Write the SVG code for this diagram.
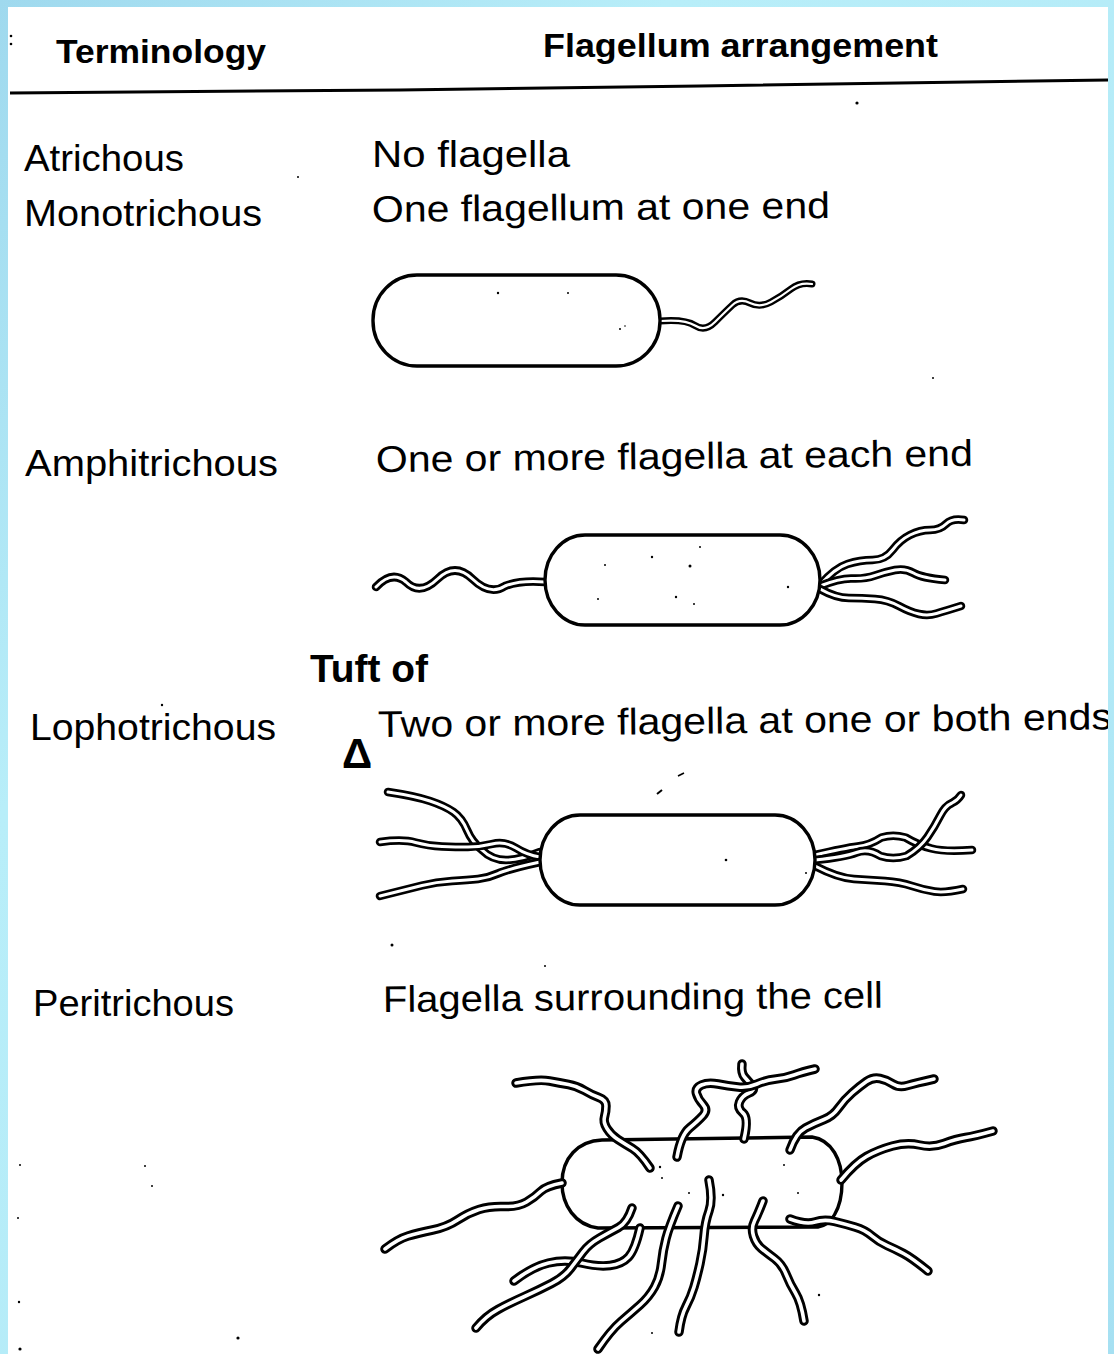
<svg xmlns="http://www.w3.org/2000/svg" xmlns:xlink="http://www.w3.org/1999/xlink" width="1114" height="1354" viewBox="0 0 1114 1354">
  <style>
    .lbl { font-family: "Liberation Sans", Arial, sans-serif; font-size: 37px; fill: #000; }
    .hdr { font-family: "Liberation Sans", Arial, sans-serif; font-size: 33px; font-weight: bold; fill: #000; }
    .note { font-family: "Liberation Sans", Arial, sans-serif; font-weight: bold; fill: #000; }
    .body { fill: #fff; stroke: #000; stroke-width: 3.4; }
    .fo { fill: none; stroke: #000; stroke-width: 8.5; stroke-linecap: round; stroke-linejoin: round; }
    .fi { fill: none; stroke: #fff; stroke-width: 3; stroke-linecap: round; stroke-linejoin: round; }
    .thin .fo { stroke-width: 7; }
    .thin .fi { stroke-width: 2.2; }
    .wide .fo { stroke-width: 9.5; }
    .wide .fi { stroke-width: 3.6; }
    .speck { fill: #000; }
  </style>
  <defs>
    <linearGradient id="frame" x1="0" y1="0" x2="1" y2="1">
      <stop offset="0" stop-color="#9fd9ee"/>
      <stop offset="0.3" stop-color="#b8eef9"/>
      <stop offset="0.7" stop-color="#b3eaf7"/>
      <stop offset="1" stop-color="#a6e0f2"/>
    </linearGradient>
    <clipPath id="panelClip"><rect x="8" y="7" width="1100" height="1347"/></clipPath>

    <!-- monotrichous flagellum -->
    <path id="m1" d="M660,321 Q685,319 695,325.5 Q705,332 715,322 Q725,312 732.5,305 Q740,298 750,303 Q760,308 771,302 Q782,296 791,289 Q800,282 812,284"/>

    <!-- amphitrichous flagella -->
    <path id="a1" d="M376,587 Q392,570 406,582 Q420,596 437.5,579 Q455,562 472.5,579 Q490,596 505,586 Q520,580 545,582"/>
    <path id="a2" d="M820,585 Q835,568 847.5,564 Q860,560 872.5,560 Q885,560 892.5,550 Q900,540 910,535 Q920,530 930,530 Q940,530 946,524 Q952,518 964,520"/>
    <path id="a3" d="M820,586 Q840,578 852.5,578.5 Q865,579 875,575.5 Q885,572 895,570 Q905,568 913.5,573 Q922,578 945,580"/>
    <path id="a4" d="M820,589 Q836,598 849,598 Q862,598 875,599 Q888,600 899,606 Q910,612 919,614 Q928,616 936.5,613.5 Q945,611 961,606"/>

    <!-- lophotrichous tufts -->
    <path id="l1" d="M388,792 Q415,796 430,801 Q445,806 453.5,812 Q462,818 467,830 Q472,842 482,850 Q492,860 506,860 Q520,860 540,852"/>
    <path id="l2" d="M380,842 Q403,839 415.5,842.5 Q428,846 442,846.5 Q456,847 468,847 Q480,847 492,844 Q505,841 516,848 Q527,855 540,857"/>
    <path id="l3" d="M380,896 Q408,889 422,885.5 Q436,882 452,881 Q468,880 478,879 Q488,878 498,873.5 Q508,869 540,862"/>
    <path id="l4" d="M815,855 Q845,848 857.5,846.5 Q870,845 881.5,837.5 Q893,834 905.5,837.5 Q918,845 931.5,848.5 Q945,852 972,850"/>
    <path id="l5" d="M815,860 Q845,857 856.5,852.5 Q868,848 880.5,856 Q893,860 906.5,856 Q920,848 927.5,837 Q935,826 940,816 Q945,806 952,803 Q958,800 961,795"/>
    <path id="l6" d="M815,866 Q838,878 854,879 Q870,880 885,881 Q900,882 912,886 Q924,890 934.5,891.5 Q945,893 963,889"/>

    <!-- peritrichous flagella -->
    <path id="p1" d="M516,1083 Q539,1079 549.5,1081 Q560,1083 568.5,1084.5 Q577,1086 584.5,1090.5 Q592,1095 599,1097.5 Q606,1100 606,1106 Q606,1112 604.5,1117 Q603,1122 607,1128.5 Q611,1135 618,1139.5 Q625,1144 632.5,1148.5 Q640,1153 650,1168"/>
    <path id="p2" d="M677,1157 Q681,1135 689.5,1128 Q698,1121 703,1115.5 Q708,1110 703,1104.5 Q698,1099 696.5,1093.5 Q695,1088 701.5,1085 Q708,1082 718,1084 Q728,1086 738,1087 Q748,1088 757,1084 Q766,1080 776,1079 Q786,1078 794,1075 Q802,1072 815,1069"/>
    <path id="p3" d="M744,1139 Q749,1118 743,1113 Q737,1108 739.5,1102 Q742,1096 749,1093 Q756,1090 752,1085.5 Q748,1081 744.5,1077 Q741,1073 742,1064"/>
    <path id="p4" d="M790,1150 Q796,1133 805.5,1128 Q815,1123 824,1119.5 Q833,1116 838.5,1108 Q844,1100 852,1093 Q860,1086 866.5,1081.5 Q873,1077 880,1078.5 Q887,1080 893,1084 Q899,1088 907.5,1085.5 Q916,1083 934,1079"/>
    <path id="p5" d="M841,1180 Q855,1163 866.5,1156.5 Q878,1150 892.5,1146 Q907,1142 919.5,1145 Q932,1148 944,1143.5 Q956,1139 965.5,1137.5 Q975,1136 993,1131"/>
    <path id="p6" d="M790,1219 Q806,1225 815,1222 Q824,1219 834.5,1221.5 Q845,1224 855,1227 Q865,1230 872,1236 Q879,1242 887,1245.5 Q895,1249 903.5,1253.5 Q912,1258 928,1271"/>
    <path id="p7" d="M763,1201 Q758,1214 754.5,1221 Q751,1228 753.5,1236 Q756,1244 761.5,1248.5 Q767,1253 774.5,1258.5 Q782,1264 786,1274 Q790,1284 795.5,1293 Q801,1302 804,1321"/>
    <path id="p8" d="M709,1180 Q713,1200 709,1211 Q705,1222 704,1236 Q703,1250 700,1263.5 Q697,1277 694,1287 Q691,1297 686,1306.5 Q681,1316 679,1332"/>
    <path id="p9" d="M678,1206 Q669,1227 666,1238.5 Q663,1250 661.5,1263.5 Q660,1277 654.5,1287 Q649,1297 640,1305 Q631,1313 621,1321.5 Q611,1330 598,1349"/>
    <path id="p10" d="M632,1208 Q627,1223 618.5,1227.5 Q610,1232 599.5,1238 Q589,1244 583,1252 Q577,1260 570.5,1268.5 Q564,1277 551.5,1283.5 Q539,1290 524.5,1296.5 Q510,1303 498,1309.5 Q486,1316 476,1328"/>
    <path id="p11" d="M640,1228 Q635,1250 628.5,1257 Q622,1264 610,1265.5 Q598,1267 581.5,1263 Q565,1259 548.5,1263 Q532,1267 514,1281"/>
    <path id="p12" d="M562,1183 Q546,1186 540.5,1191.5 Q535,1197 526.5,1202 Q518,1207 504,1206.5 Q490,1206 479,1209.5 Q468,1213 457.5,1220 Q447,1227 432.5,1230 Q418,1233 408,1236 Q398,1239 385,1249"/>
  </defs>

  <!-- frame and page -->
  <rect x="0" y="0" width="1114" height="1354" fill="url(#frame)"/>
  <rect x="8" y="7" width="1100" height="1347" fill="#fff"/>

  <g clip-path="url(#panelClip)">
    <!-- table header -->
    <g id="header">
      <text class="hdr" x="56" y="63" textLength="210" lengthAdjust="spacingAndGlyphs">Terminology</text>
      <text class="hdr" x="543" y="57" textLength="395" lengthAdjust="spacingAndGlyphs">Flagellum arrangement</text>
      <path d="M10,93 L400,90 L700,86 L1108,80" fill="none" stroke="#000" stroke-width="3"/>
    </g>

    <!-- atrichous -->
    <g id="row-atrichous">
      <text class="lbl" x="24" y="171" textLength="160" lengthAdjust="spacingAndGlyphs">Atrichous</text>
      <text class="lbl" x="372" y="167" textLength="198" lengthAdjust="spacingAndGlyphs">No flagella</text>
    </g>

    <!-- monotrichous -->
    <g id="row-monotrichous" class="thin">
      <text class="lbl" x="24" y="226" textLength="238" lengthAdjust="spacingAndGlyphs">Monotrichous</text>
      <text class="lbl" x="372" y="222" textLength="458" lengthAdjust="spacingAndGlyphs" transform="rotate(-0.5 372 222)">One flagellum at one end</text>
      <use class="fo" xlink:href="#m1"/><use class="fi" xlink:href="#m1"/>
      <rect class="body" x="373" y="275" width="287" height="91" rx="44" ry="45"/>
    </g>

    <!-- amphitrichous -->
    <g id="row-amphitrichous">
      <text class="lbl" x="25" y="476" textLength="253" lengthAdjust="spacingAndGlyphs">Amphitrichous</text>
      <text class="lbl" x="376" y="472" textLength="597" lengthAdjust="spacingAndGlyphs" transform="rotate(-0.6 376 472)">One or more flagella at each end</text>
      <use class="fo" xlink:href="#a1"/><use class="fi" xlink:href="#a1"/>
      <use class="fo" xlink:href="#a2"/><use class="fi" xlink:href="#a2"/>
      <use class="fo" xlink:href="#a3"/><use class="fi" xlink:href="#a3"/>
      <use class="fo" xlink:href="#a4"/><use class="fi" xlink:href="#a4"/>
      <rect class="body" x="545" y="535" width="275" height="90" rx="40" ry="45"/>
    </g>

    <!-- lophotrichous -->
    <g id="row-lophotrichous">
      <text class="note" x="310" y="682" font-size="39" textLength="118" lengthAdjust="spacingAndGlyphs">Tuft of</text>
      <text class="note" x="342" y="768" font-size="42">Δ</text>
      <text class="lbl" x="30" y="740" textLength="246" lengthAdjust="spacingAndGlyphs">Lophotrichous</text>
      <text class="lbl" x="378" y="737" textLength="734" lengthAdjust="spacingAndGlyphs" transform="rotate(-0.6 378 737)">Two or more flagella at one or both ends</text>
      <use class="fo" xlink:href="#l1"/><use class="fi" xlink:href="#l1"/>
      <use class="fo" xlink:href="#l2"/><use class="fi" xlink:href="#l2"/>
      <use class="fo" xlink:href="#l3"/><use class="fi" xlink:href="#l3"/>
      <use class="fo" xlink:href="#l4"/><use class="fi" xlink:href="#l4"/>
      <use class="fo" xlink:href="#l5"/><use class="fi" xlink:href="#l5"/>
      <use class="fo" xlink:href="#l6"/><use class="fi" xlink:href="#l6"/>
      <rect class="body" x="540" y="815" width="275" height="90" rx="40" ry="45"/>
    </g>

    <!-- peritrichous -->
    <g id="row-peritrichous" class="wide">
      <text class="lbl" x="33" y="1016" textLength="201" lengthAdjust="spacingAndGlyphs">Peritrichous</text>
      <text class="lbl" x="383" y="1012" textLength="500" lengthAdjust="spacingAndGlyphs" transform="rotate(-0.5 383 1012)">Flagella surrounding the cell</text>
      <path class="body" d="M602,1140 L812,1137 C832,1140 842,1160 842,1183 C842,1210 830,1226 818,1227 L598,1228 C575,1225 562,1205 562,1183 C562,1158 578,1141 602,1140 Z"/>
      <use class="fo" xlink:href="#p1"/><use class="fi" xlink:href="#p1"/>
      <use class="fo" xlink:href="#p3"/><use class="fi" xlink:href="#p3"/>
      <use class="fo" xlink:href="#p2"/><use class="fi" xlink:href="#p2"/>
      <use class="fo" xlink:href="#p4"/><use class="fi" xlink:href="#p4"/>
      <use class="fo" xlink:href="#p5"/><use class="fi" xlink:href="#p5"/>
      <use class="fo" xlink:href="#p6"/><use class="fi" xlink:href="#p6"/>
      <use class="fo" xlink:href="#p7"/><use class="fi" xlink:href="#p7"/>
      <use class="fo" xlink:href="#p8"/><use class="fi" xlink:href="#p8"/>
      <use class="fo" xlink:href="#p11"/><use class="fi" xlink:href="#p11"/>
      <use class="fo" xlink:href="#p9"/><use class="fi" xlink:href="#p9"/>
      <use class="fo" xlink:href="#p10"/><use class="fi" xlink:href="#p10"/>
      <use class="fo" xlink:href="#p12"/><use class="fi" xlink:href="#p12"/>
    </g>

    <!-- stray specks of the printed page -->
    <g id="specks" class="speck">
      <circle cx="11" cy="36" r="1.3"/><circle cx="11" cy="44" r="1.3"/>
      <circle cx="857" cy="103" r="1.6"/>
      <circle cx="298" cy="177" r="1"/>
      <circle cx="498" cy="293" r="1.2"/><circle cx="568" cy="293" r="1"/>
      <circle cx="620" cy="329" r="1"/><circle cx="625" cy="326" r="0.8"/>
      <circle cx="933" cy="378" r="1"/>
      <circle cx="605" cy="565" r="1"/><circle cx="652" cy="557" r="1.2"/><circle cx="690" cy="566" r="1.5"/><circle cx="700" cy="547" r="1"/><circle cx="598" cy="599" r="1"/><circle cx="676" cy="597" r="1.2"/><circle cx="694" cy="604" r="1"/><circle cx="788" cy="587" r="1.2"/>
      <circle cx="162" cy="705" r="1.2"/>
      <path d="M657,794 L662,790" stroke="#000" stroke-width="2"/>
      <path d="M678,776 L684,773" stroke="#000" stroke-width="1.6"/>
      <circle cx="726" cy="860" r="1.3"/><circle cx="806" cy="873" r="1"/>
      <circle cx="392" cy="945" r="1.5"/><circle cx="545" cy="966" r="1"/>
      <circle cx="145" cy="1166" r="1"/><circle cx="152" cy="1186" r="1"/>
      <circle cx="20" cy="1165" r="1"/><circle cx="18" cy="1218" r="1"/>
      <circle cx="660" cy="1167" r="1.2"/><circle cx="662" cy="1178" r="1"/><circle cx="689" cy="1193" r="1"/><circle cx="723" cy="1195" r="1.2"/><circle cx="784" cy="1165" r="1"/><circle cx="798" cy="1193" r="1"/>
      <circle cx="819" cy="1295" r="1.2"/><circle cx="652" cy="1333" r="1"/>
      <circle cx="19" cy="1302" r="1.2"/><circle cx="20" cy="1349" r="1.6"/><circle cx="238" cy="1338" r="1.6"/>
    </g>
  </g>
</svg>
